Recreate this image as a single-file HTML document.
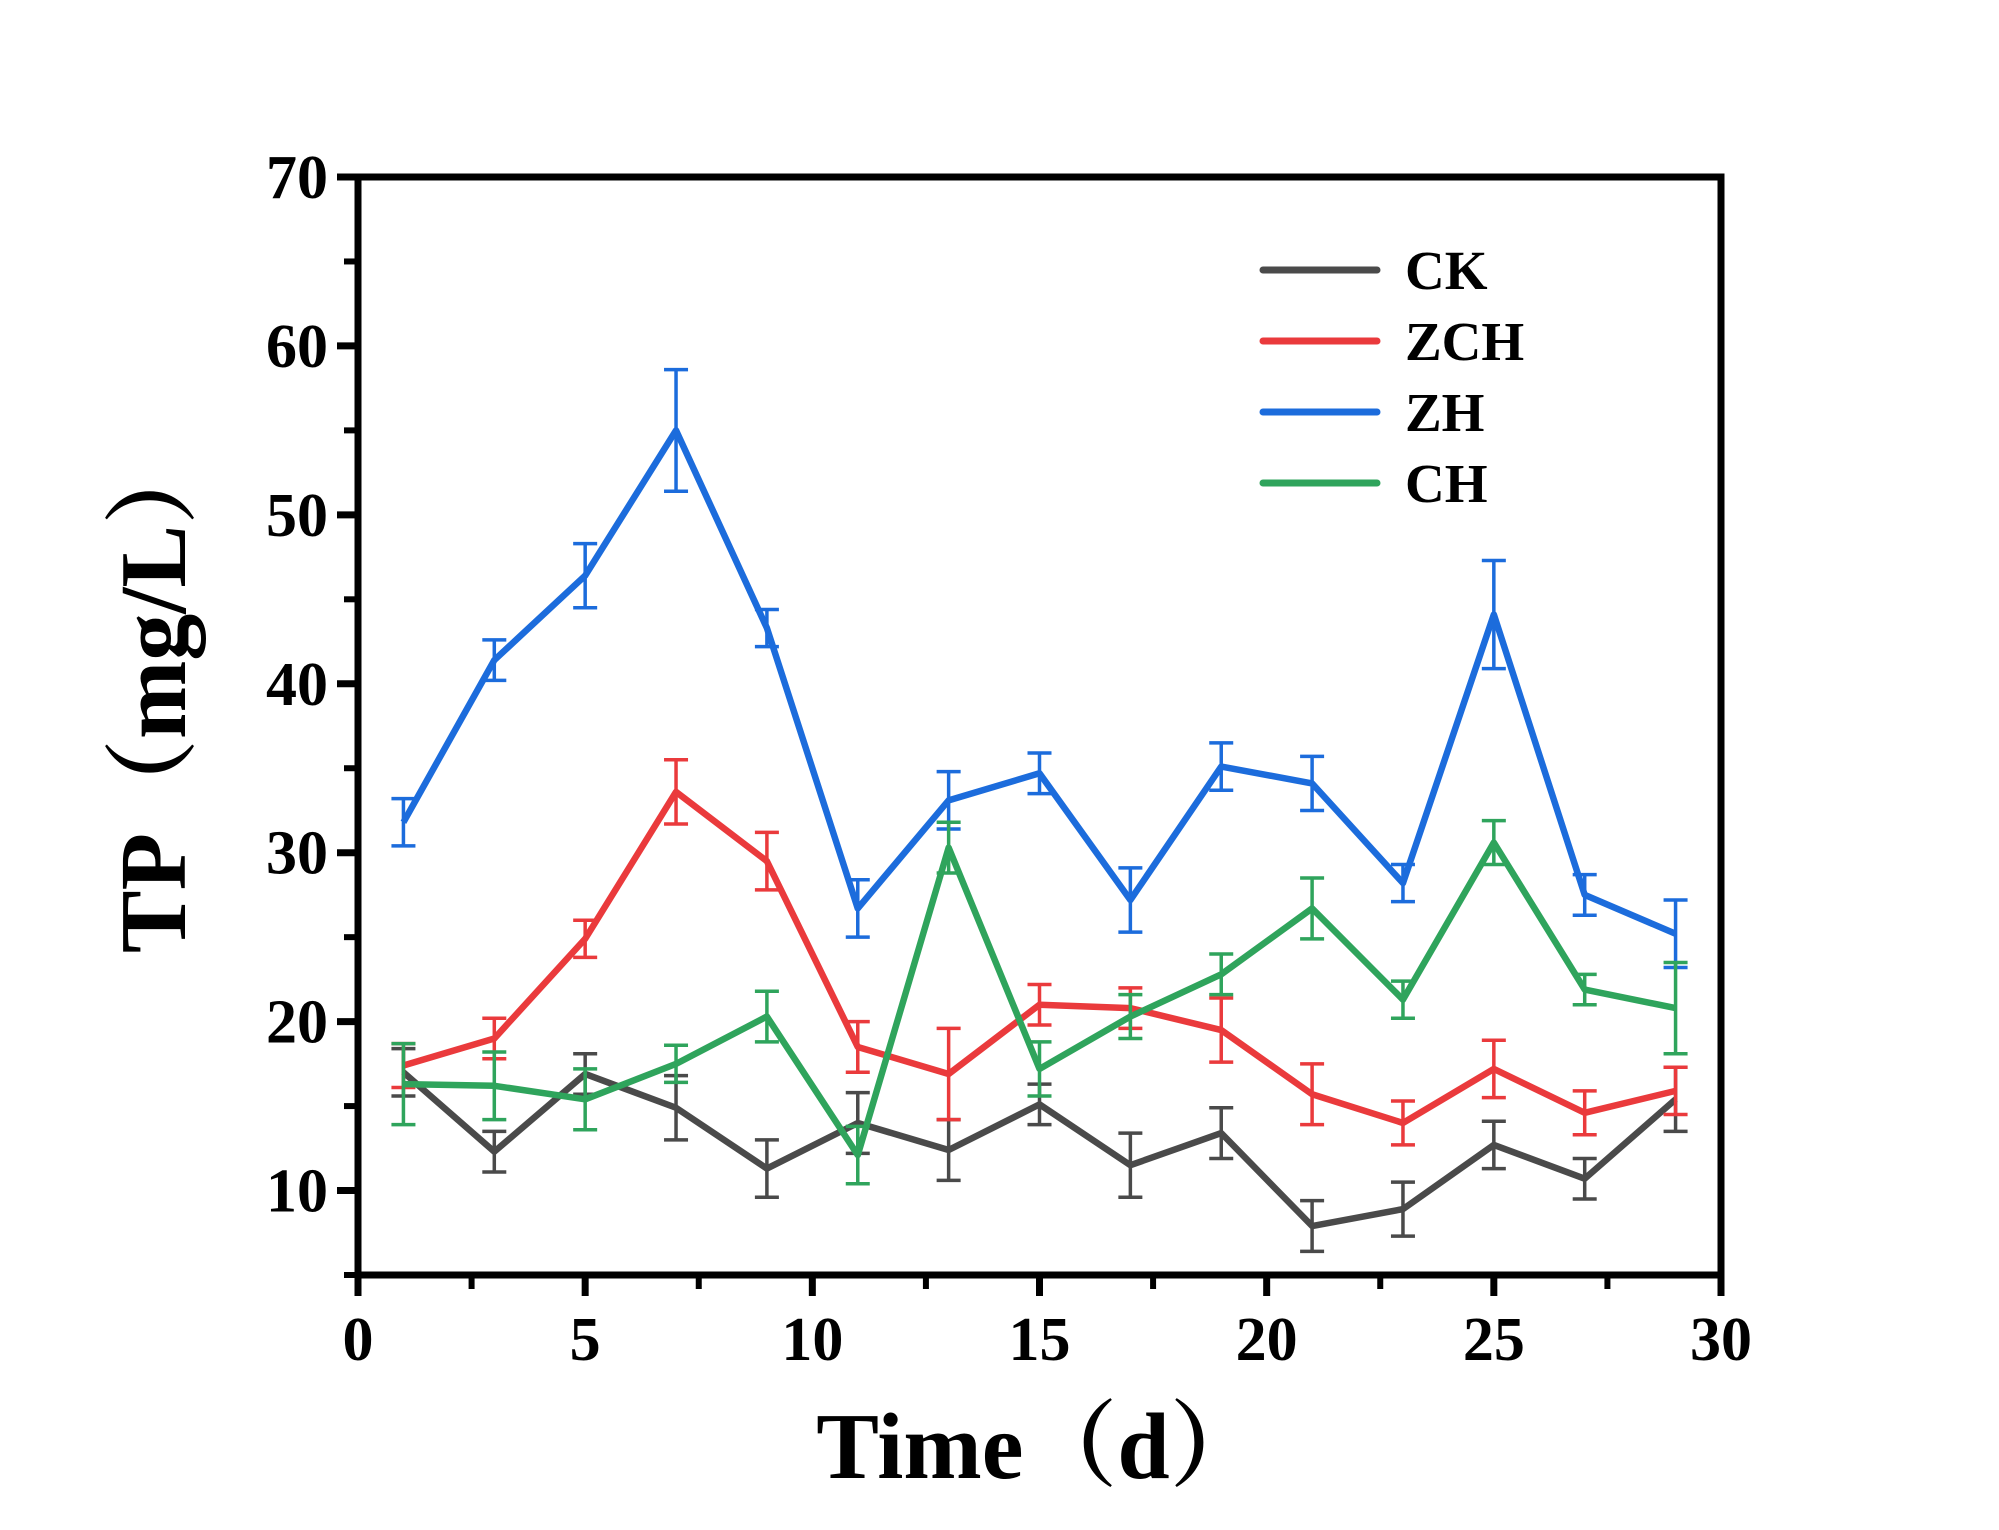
<!DOCTYPE html>
<html><head><meta charset="utf-8"><style>
html,body{margin:0;padding:0;background:#fff}
svg{display:block}
text{font-family:"Liberation Serif","Noto Serif CJK SC",serif;font-weight:bold;fill:#000}
</style></head><body>
<svg id="chart" width="1999" height="1530" viewBox="0 0 1999 1530" xmlns="http://www.w3.org/2000/svg"></svg>
<script>
const days = [1,3,5,7,9,11,13,15,17,19,21,23,25,27,29];
const ckValues = [17,12.3,16.9,14.9,11.3,14,12.4,15.1,11.5,13.4,7.9,8.9,12.7,10.7,15.4];
const ckErrors = [1.4,1.2,1.2,1.9,1.7,1.8,1.8,1.2,1.9,1.5,1.5,1.6,1.4,1.2,1.9];
const zchValues = [17.4,19,24.9,33.6,29.5,18.5,16.9,21,20.8,19.5,15.7,14,17.2,14.6,15.9];
const zchErrors = [1.3,1.2,1.1,1.9,1.7,1.5,2.7,1.2,1.2,1.9,1.8,1.3,1.7,1.3,1.4];
const zhValues = [31.8,41.4,46.4,55,43.3,26.7,33.1,34.7,27.2,35.1,34.1,28.2,44.1,27.5,25.2];
const zhErrors = [1.4,1.2,1.9,3.6,1.1,1.7,1.7,1.2,1.9,1.4,1.6,1.1,3.2,1.2,2];
const chValues = [16.3,16.2,15.4,17.5,20.3,12.1,30.3,17.2,20.3,22.8,26.7,21.3,30.6,21.9,20.8];
const chErrors = [2.4,2,1.8,1.1,1.5,1.7,1.5,1.6,1.3,1.2,1.8,1.1,1.3,0.9,2.7];
const xTicks = [0,5,10,15,20,25,30];
const yTicks = [10,20,30,40,50,60,70];
const seriesNames = ["CK","ZCH","ZH","CH"];

const svg = document.getElementById('chart');
const NS = 'http://www.w3.org/2000/svg';
const L=358,R=1721,T=177,B=1275,XMIN=0,XMAX=30,YMIN=5,YMAX=70;
function xs(v){return L+(v-XMIN)/(XMAX-XMIN)*(R-L);}
function ys(v){return B-(v-YMIN)/(YMAX-YMIN)*(B-T);}
function mk(tag,attrs,parent){const e=document.createElementNS(NS,tag);for(const k in attrs)e.setAttribute(k,attrs[k]);(parent||svg).appendChild(e);return e;}

const series=[
 {name:seriesNames[0],v:ckValues,e:ckErrors,c:'#4a4a4a'},
 {name:seriesNames[1],v:zchValues,e:zchErrors,c:'#ea3a3c'},
 {name:seriesNames[2],v:zhValues,e:zhErrors,c:'#1c6cdc'},
 {name:seriesNames[3],v:chValues,e:chErrors,c:'#2fa45c'}
];

series.forEach(s=>{
  const g=mk('g',{});
  
  
  s.v.forEach((v,i)=>{
    const x=xs(days[i]),y1=ys(v+s.e[i]),y2=ys(v-s.e[i]);
    const eb=mk('path',{d:`M${x},${y1}V${y2}M${x-12},${y1}H${x+12}M${x-12},${y2}H${x+12}`,stroke:s.c,'stroke-width':3.5,fill:'none'},g);
    
    
  });
  const pl=mk('polyline',{points:s.v.map((v,i)=>xs(days[i])+','+ys(v)).join(' '),stroke:s.c,'stroke-width':6.5,fill:'none','stroke-linejoin':'round'},g);
  
  
});

const fr=mk('rect',{x:L,y:T,width:R-L,height:B-T,fill:'none',stroke:'#000','stroke-width':7});



xTicks.forEach(t=>{
  const x=xs(t);
  mk('line',{x1:x,y1:B,x2:x,y2:B+21,stroke:'#000','stroke-width':7});
  const tx=mk('text',{x:x,y:B+85,'text-anchor':'middle','font-size':62});
  tx.textContent=t;
  
  
  if(t<XMAX) mk('line',{x1:xs(t+2.5),y1:B,x2:xs(t+2.5),y2:B+14,stroke:'#000','stroke-width':6});
});
yTicks.forEach(t=>{
  const y=ys(t);
  mk('line',{x1:L-21,y1:y,x2:L,y2:y,stroke:'#000','stroke-width':7});
  const tx=mk('text',{x:L-30,y:y+21,'text-anchor':'end','font-size':62});
  tx.textContent=t;
  
  
  mk('line',{x1:L-14,y1:ys(t-5),x2:L,y2:ys(t-5),stroke:'#000','stroke-width':6});
});

const xt=mk('text',{x:1040,y:1478,'text-anchor':'middle','font-size':94});
xt.textContent='Time（d）';


const yt=mk('text',{x:0,y:0,'text-anchor':'middle','font-size':94,transform:'translate(185,692) rotate(-90)'});
yt.textContent='TP（mg/L）';



series.forEach((s,i)=>{
  const y=270+i*71;
  const g=mk('g',{});
  
  
  mk('line',{x1:1263,y1:y,x2:1377,y2:y,stroke:s.c,'stroke-width':7,'stroke-linecap':'round'},g);
  const tx=mk('text',{x:1405,y:y+19,'font-size':55},g);
  tx.textContent=s.name;
});
</script>
</body></html>
